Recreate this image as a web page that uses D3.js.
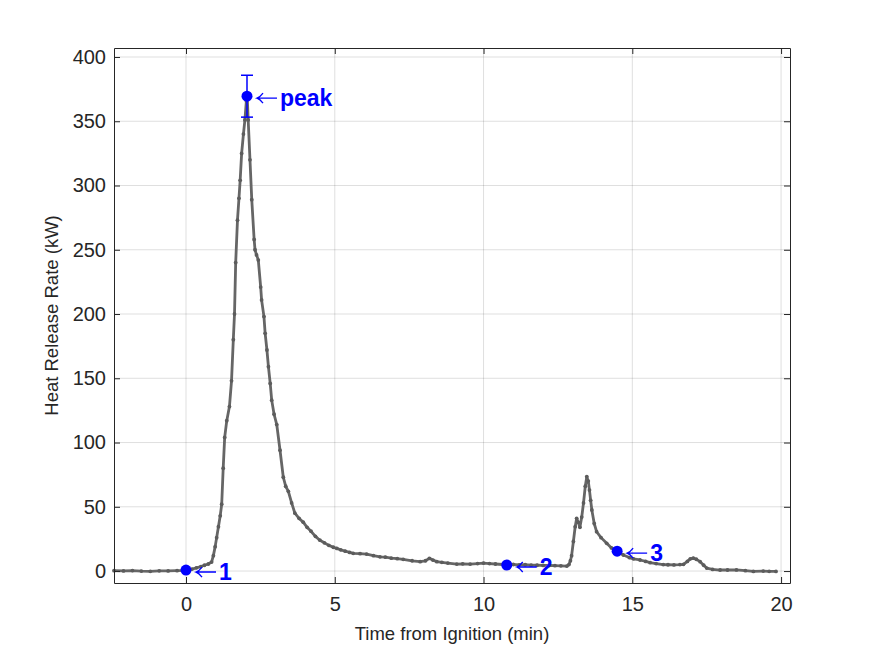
<!DOCTYPE html>
<html>
<head>
<meta charset="utf-8">
<script src="https://cdn.jsdelivr.net/npm/d3@7"></script>
<style>
    body { margin: 0; background: #fff; }
    #chart-area { width: 875px; height: 656px; }
    .axis text { font-family: "Liberation Sans", Arial, sans-serif; font-size: 20px; fill: #262626; }
    .axis path, .axis line { stroke: #262626; stroke-width: 1; }
    .grid line { stroke: #262626; stroke-opacity: 0.15; }
    .axis-label { font-family: "Liberation Sans", Arial, sans-serif; fill: #262626; }
</style>
</head>
<body>
<div id="chart-area"></div>
<script>
// HRR curve (time from ignition in min, kW)
let timeMin = [-2.42, -2.1, -1.8, -1.5, -1.2, -0.9, -0.6, -0.3, 0, 0.2, 0.35, 0.5, 0.62, 0.75, 0.86,
    0.92, 0.98, 1.03, 1.09, 1.15, 1.2, 1.25, 1.3, 1.37, 1.46, 1.53, 1.59, 1.63, 1.67, 1.73, 1.78,
    1.82, 1.87, 1.93, 1.98, 2.03, 2.06, 2.09, 2.15, 2.21, 2.29, 2.32, 2.37, 2.43, 2.51, 2.54, 2.62,
    2.66, 2.72, 2.77, 2.83, 2.88, 2.96, 3.05, 3.16, 3.27, 3.35, 3.44, 3.55, 3.66, 3.8, 3.94, 4.07,
    4.2, 4.35, 4.5, 4.65, 4.8, 4.95, 5.07, 5.2, 5.35, 5.5, 5.62, 5.85, 6.07, 6.3, 6.52, 6.7, 6.9,
    7.1, 7.3, 7.6, 7.87, 8.05, 8.18, 8.3, 8.43, 8.6, 8.8, 9.1, 9.3, 9.55, 9.8, 10.0, 10.2, 10.4,
    10.78, 11.0, 11.2, 11.4, 11.6, 11.8, 12.0, 12.2, 12.4, 12.6, 12.8, 12.87, 12.92, 12.96, 13.02,
    13.08, 13.13, 13.18, 13.24, 13.3, 13.36, 13.42, 13.47, 13.52, 13.56, 13.6, 13.64, 13.72, 13.8,
    13.95, 14.14, 14.3, 14.49, 14.7, 14.9, 15.04, 15.26, 15.45, 15.6, 15.8, 16.04, 16.2, 16.4,
    16.6, 16.72, 16.85, 16.95, 17.05, 17.15, 17.28, 17.4, 17.5, 17.7, 17.95, 18.2, 18.5, 18.8,
    19.07, 19.4, 19.6, 19.83];
let hrrKw = [0.3, 0.1, 0.4, 0.0, -0.2, 0.2, 0.1, 0.3, 0.5, 1.5, 2.5, 3.5, 4.5, 5.5, 7,
    12, 19, 26, 34.5, 43, 52, 80, 104, 117, 128, 148, 180, 200, 240, 273, 290,
    304, 325, 340, 351, 366, 368, 351, 320, 289, 258, 250, 246, 242, 221, 211, 198,
    185, 172, 159, 146, 133, 122, 114, 94, 73, 66, 62, 53, 45, 41, 38, 34,
    31, 27, 24, 22, 20, 18.5, 17.6, 16.5, 15.5, 14.5, 13.8, 13.5, 13.2, 12, 11.1, 10.8, 10,
    9.6, 9.1, 8, 7.3, 8, 9.9, 8.5, 7.3, 6.8, 6.2, 5.4, 5.6, 5.4, 5.8, 6.2, 5.8, 5.5,
    4.9, 5.1, 4.8, 4.9, 4.6, 4.5, 4.4, 4.3, 4.2, 4.1, 3.9, 5, 8, 12, 23,
    34.5, 41, 38, 34, 42, 53, 66, 73.5, 70, 63, 55, 47.5, 37, 30.6,
    26, 21.6, 18, 15, 12.5, 10.5, 9.5, 8.6, 7.5, 6.5, 5.8, 5, 4.9, 4.8,
    5, 5.2, 7.5, 9.5, 10, 9.2, 7.3, 4.5, 2.3, 1.3, 0.8, 0.8, 0.9, 0.3,
    -0.3, 0, -0.2, -0.3];

// labelled points on the curve
let eventLabels = ["1", "peak", "2", "3"];
let eventTime = [0, 2.05, 10.78, 14.49];
let eventHrr = [0.8, 369.5, 4.7, 15.5];
let peakErr = 16.3;

let xTicks = [0, 5, 10, 15, 20];
let yTicks = [0, 50, 100, 150, 200, 250, 300, 350, 400];

class HrrVis {

    constructor(parentElement) {
        this.parentElement = parentElement;
        this.initVis();
    }

    initVis() {
        let vis = this;

        vis.margin = {top: 48, right: 85, bottom: 73, left: 114};
        vis.width = 875 - vis.margin.left - vis.margin.right;
        vis.height = 656 - vis.margin.top - vis.margin.bottom;

        vis.svg = d3.select("#" + vis.parentElement).append("svg")
            .attr("width", 875)
            .attr("height", 656)
            .append("g")
            .attr("transform", "translate(" + vis.margin.left + "," + vis.margin.top + ")");

        vis.x = d3.scaleLinear().domain([-2.42, 20.3]).range([0, vis.width]);
        vis.y = d3.scaleLinear().domain([-9.3, 407]).range([vis.height, 0]);

        vis.displayData = timeMin.map((t, i) => ({t: t, hrr: hrrKw[i]}));
        vis.events = eventLabels.map((l, i) => ({label: l, t: eventTime[i], hrr: eventHrr[i]}));

        vis.updateVis();
    }

    updateVis() {
        let vis = this;

        // grid
        let grid = vis.svg.append("g").attr("class", "grid");
        grid.selectAll(".gx").data(xTicks).enter().append("line")
            .attr("x1", d => vis.x(d)).attr("x2", d => vis.x(d))
            .attr("y1", 0).attr("y2", vis.height);
        grid.selectAll(".gy").data(yTicks).enter().append("line")
            .attr("x1", 0).attr("x2", vis.width)
            .attr("y1", d => vis.y(d)).attr("y2", d => vis.y(d));

        // curve
        vis.line = d3.line()
            .x(d => vis.x(d.t))
            .y(d => vis.y(d.hrr));

        vis.svg.append("path")
            .datum(vis.displayData)
            .attr("fill", "none")
            .attr("stroke", "#666666")
            .attr("stroke-width", 2.8)
            .attr("stroke-linejoin", "round")
            .attr("d", vis.line);

        vis.svg.selectAll(".pt").data(vis.displayData).enter().append("circle")
            .attr("class", "pt")
            .attr("cx", d => vis.x(d.t))
            .attr("cy", d => vis.y(d.hrr))
            .attr("r", 1.9)
            .attr("fill", "#5c5c5c");

        // error bar on the peak
        let peak = vis.events[1];
        let eb = vis.svg.append("g").attr("stroke", "#0000ff").attr("stroke-width", 1.5);
        eb.append("line")
            .attr("x1", vis.x(peak.t)).attr("x2", vis.x(peak.t))
            .attr("y1", vis.y(peak.hrr + peakErr)).attr("y2", vis.y(peak.hrr - peakErr));
        [peakErr, -peakErr].forEach(e => {
            eb.append("line")
                .attr("x1", vis.x(peak.t) - 6).attr("x2", vis.x(peak.t) + 6)
                .attr("y1", vis.y(peak.hrr + e)).attr("y2", vis.y(peak.hrr + e));
        });

        // event markers + labels
        vis.svg.selectAll(".ev").data(vis.events).enter().append("circle")
            .attr("class", "ev")
            .attr("cx", d => vis.x(d.t))
            .attr("cy", d => vis.y(d.hrr))
            .attr("r", 5.5)
            .attr("fill", "#0000ff");

        // thin TeX-like left arrow
        vis.svg.selectAll(".ev-arrow").data(vis.events).enter().append("path")
            .attr("class", "ev-arrow")
            .attr("fill", "none")
            .attr("stroke", "#0000ff")
            .attr("stroke-width", 1.3)
            .attr("d", d => {
                let x0 = vis.x(d.t) + 10, y0 = vis.y(d.hrr) + 2;
                return "M" + x0 + "," + y0 + "H" + (x0 + 20)
                    + "M" + (x0 + 6) + "," + (y0 - 5) + "Q" + (x0 + 3) + "," + (y0 - 1) + " " + x0 + "," + y0
                    + "Q" + (x0 + 3) + "," + (y0 + 1) + " " + (x0 + 6) + "," + (y0 + 5);
            });

        vis.svg.selectAll(".ev-label").data(vis.events).enter().append("text")
            .attr("class", "ev-label")
            .attr("x", d => vis.x(d.t) + 33)
            .attr("y", d => vis.y(d.hrr) + 9.5)
            .attr("fill", "#0000ff")
            .style("font-family", "'Liberation Sans', Arial, sans-serif")
            .style("font-weight", "bold")
            .style("font-size", "23px")
            .text(d => d.label);

        // axes, MATLAB style box with inward ticks
        vis.svg.append("g")
            .attr("class", "x-axis axis")
            .attr("transform", "translate(0," + vis.height + ")")
            .call(d3.axisBottom(vis.x).tickValues(xTicks).tickSizeInner(-6).tickSizeOuter(0).tickPadding(14));

        vis.svg.append("g")
            .attr("class", "y-axis axis")
            .call(d3.axisLeft(vis.y).tickValues(yTicks).tickSizeInner(-6).tickSizeOuter(0).tickPadding(8));

        vis.svg.append("g")
            .attr("class", "axis")
            .call(d3.axisTop(vis.x).tickValues(xTicks).tickSizeInner(-6).tickSizeOuter(0).tickFormat(""));

        vis.svg.append("g")
            .attr("class", "axis")
            .attr("transform", "translate(" + vis.width + ",0)")
            .call(d3.axisRight(vis.y).tickValues(yTicks).tickSizeInner(-6).tickSizeOuter(0).tickFormat(""));

        // axis labels
        vis.svg.append("text")
            .attr("class", "axis-label")
            .attr("text-anchor", "middle")
            .attr("x", vis.width / 2)
            .attr("y", vis.height + 57)
            .style("font-size", "18.5px")
            .text("Time from Ignition (min)");

        vis.svg.append("text")
            .attr("class", "axis-label")
            .attr("text-anchor", "middle")
            .attr("transform", "rotate(-90)")
            .attr("x", -vis.height / 2)
            .attr("y", -56)
            .style("font-size", "18.5px")
            .text("Heat Release Rate (kW)");
    }
}

new HrrVis("chart-area");
</script>
</body>
</html>
